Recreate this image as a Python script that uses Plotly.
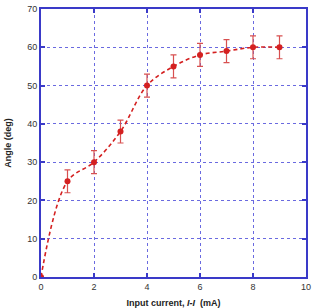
import plotly.graph_objects as go

current = [0, 1, 2, 3, 4, 5, 6, 7, 8, 9]
angle = [0, 25, 30, 38, 50, 55, 58, 59, 60, 60]
err = [0, 3, 3, 3, 3, 3, 3, 3, 3, 3]
xticks = [0, 2, 4, 6, 8, 10]
yticks = [0, 10, 20, 30, 40, 50, 60, 70]

red = "#d42020"
errred = "#d85050"
blue = "#3a3ac8"
gridblue = "#6a6ae0"
font = "Liberation Sans, Arial"

fig = go.Figure()
fig.add_trace(go.Scatter(x=current, y=angle, mode="lines",
                         line=dict(color=red, width=1.6, dash="4px,3px", shape="spline", smoothing=1.0),
                         hoverinfo="skip", showlegend=False))
fig.add_trace(go.Scatter(x=current, y=angle, mode="markers",
                         marker=dict(color=red, size=6),
                         error_y=dict(type="data", array=err, visible=True, color=errred, thickness=1.2, width=3),
                         showlegend=False))

axis_common = dict(showline=True, linecolor=blue, linewidth=2, mirror="ticks",
                   ticks="inside", tickcolor=blue, ticklen=4, tickwidth=1.5,
                   showgrid=True, gridcolor=gridblue, griddash="dot", gridwidth=1,
                   zeroline=False, automargin=False,
                   tickfont=dict(family=font, size=9, color="#333"))

fig.update_xaxes(range=[0, 10], tickvals=xticks,
                 title=dict(text="<b>Input current, <i>I-I</i>  (mA)</b>", font=dict(family=font, size=9, color="#222"), standoff=10),
                 **axis_common)
fig.update_yaxes(range=[0, 70], tickvals=yticks,
                 title=dict(text="<b>Angle (deg)</b>", font=dict(family=font, size=9, color="#222"), standoff=14),
                 **axis_common)

fig.update_layout(width=314, height=308, margin=dict(l=41, r=8, t=9, b=31),
                  plot_bgcolor="white", paper_bgcolor="white")

fig.write_html("out.html")
